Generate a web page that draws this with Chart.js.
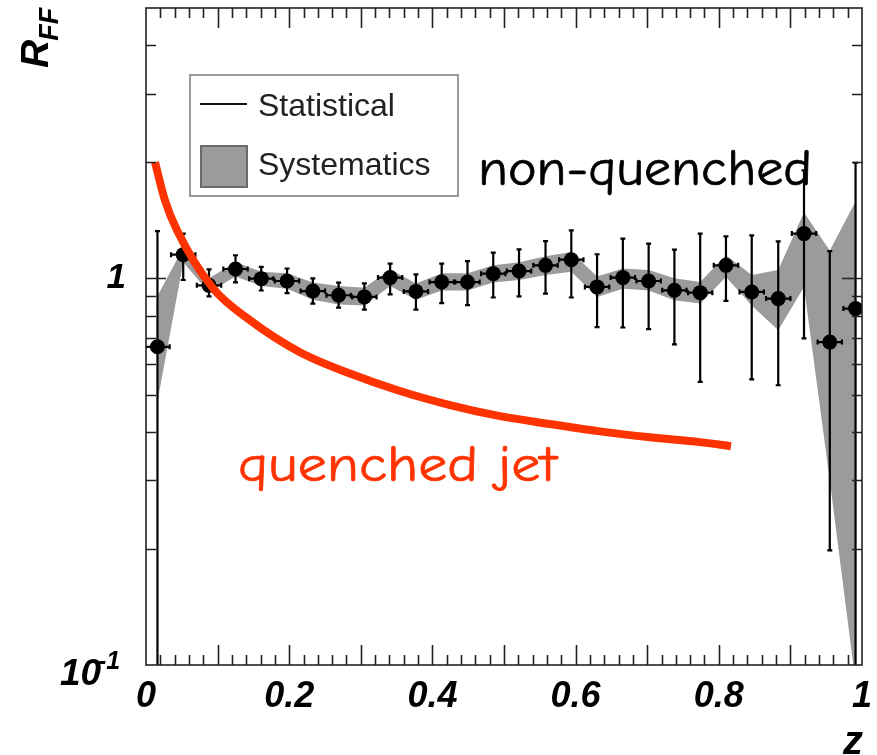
<!DOCTYPE html>
<html>
<head>
<meta charset="utf-8">
<script src="https://cdn.jsdelivr.net/npm/chart.js@4.4.0/dist/chart.umd.min.js"></script>
<style>
  html, body { margin: 0; padding: 0; background: #ffffff; }
  #wrap { width: 877px; height: 755px; }
</style>
</head>
<body>
<div id="wrap"><canvas id="c" width="877" height="755"></canvas></div>
<script>
// Fragmentation-function ratio R_FF versus z
const zValues   = [0.016, 0.052, 0.088, 0.125, 0.161, 0.197, 0.233, 0.269, 0.305, 0.341,
                   0.377, 0.413, 0.449, 0.485, 0.521, 0.558, 0.594, 0.630, 0.666, 0.702,
                   0.738, 0.774, 0.810, 0.846, 0.883, 0.919, 0.955, 0.991];
const rffValues = [0.665, 1.151, 0.959, 1.057, 0.998, 0.984, 0.927, 0.904, 0.895, 1.004,
                   0.925, 0.978, 0.978, 1.028, 1.044, 1.080, 1.117, 0.950, 1.004, 0.984,
                   0.931, 0.918, 1.080, 0.922, 0.886, 1.305, 0.684, 0.835];
// statistical errors (lower / upper ends of the bar)
const statLow   = [0.09, 0.990, 0.898, 0.976, 0.930, 0.915, 0.860, 0.840, 0.830, 0.909,
                   0.830, 0.863, 0.852, 0.892, 0.898, 0.913, 0.892, 0.748, 0.746, 0.739,
                   0.675, 0.540, 0.874, 0.548, 0.529, 0.699, 0.198, 0.09];
const statHigh  = [1.325, 1.305, 1.055, 1.147, 1.070, 1.060, 1.000, 0.975, 0.970, 1.091,
                   1.024, 1.091, 1.108, 1.165, 1.188, 1.248, 1.330, 1.154, 1.266, 1.229,
                   1.186, 1.305, 1.284, 1.291, 1.246, 1.901, 1.176, 1.990];
// systematic uncertainty band
const sysLow    = [0.48, 1.10, 0.92, 1.01, 0.955, 0.94, 0.88, 0.855, 0.85, 0.955,
                   0.88, 0.93, 0.93, 0.975, 0.99, 1.02, 1.04, 0.895, 0.94, 0.93,
                   0.877, 0.86, 1.008, 0.85, 0.734, 0.95, 0.30, 0.09];
const sysHigh   = [0.90, 1.20, 1.00, 1.10, 1.04, 1.03, 0.975, 0.955, 0.945, 1.055,
                   0.97, 1.03, 1.03, 1.08, 1.10, 1.14, 1.17, 1.01, 1.06, 1.05,
                   1.00, 0.978, 1.147, 1.02, 1.05, 1.48, 1.18, 1.58];
const binHalfWidth = 0.017;

// expected suppression for a quenched jet
const quenchedZ = [0.0126, 0.0265, 0.0433, 0.0936, 0.1453, 0.2151, 0.2849, 0.3547,
                   0.4246, 0.4944, 0.5642, 0.6341, 0.7039, 0.7737, 0.8170];
const quenchedR = [1.995, 1.590, 1.331, 0.942, 0.779, 0.644, 0.567, 0.511,
                   0.470, 0.440, 0.420, 0.402, 0.388, 0.377, 0.368];

const xTickLabels = [0, 0.2, 0.4, 0.6, 0.8, 1];
const yTickLabels = [0.1, 1];
const yMinorTicks = [0.2, 0.3, 0.4, 0.5, 0.6, 0.7, 0.8, 0.9, 2, 3, 4];

const FONT = 'Liberation Sans, Arial, Helvetica, sans-serif';
const HAND = '"Comic Sans MS", "Comic Neue", "DejaVu Sans", sans-serif';
const POINTS_INDEX = 3;

const pts = (xs, ys) => xs.map((x, i) => ({ x: x, y: ys[i] }));

const decor = {
  id: 'decor',
  beforeDatasetDraw(chart, args) {
    if (args.index !== POINTS_INDEX) return;
    const { ctx, chartArea: a } = chart;
    const xs = chart.scales.x, ys = chart.scales.y;
    ctx.save();
    ctx.beginPath();
    ctx.rect(a.left, a.top, a.right - a.left, a.bottom - a.top);
    ctx.clip();
    ctx.strokeStyle = '#000';
    ctx.lineWidth = 2.2;
    const cap = 2.5;
    zValues.forEach((z, i) => {
      const px = xs.getPixelForValue(z);
      const py = ys.getPixelForValue(rffValues[i]);
      const lo = ys.getPixelForValue(statLow[i]);
      const hi = ys.getPixelForValue(statHigh[i]);
      const l = xs.getPixelForValue(z - binHalfWidth);
      const r = xs.getPixelForValue(z + binHalfWidth);
      ctx.beginPath();
      ctx.moveTo(px, lo); ctx.lineTo(px, hi);
      ctx.moveTo(px - cap, lo); ctx.lineTo(px + cap, lo);
      ctx.moveTo(px - cap, hi); ctx.lineTo(px + cap, hi);
      ctx.moveTo(l, py); ctx.lineTo(r, py);
      ctx.moveTo(l, py - cap); ctx.lineTo(l, py + cap);
      ctx.moveTo(r, py - cap); ctx.lineTo(r, py + cap);
      ctx.stroke();
    });
    ctx.restore();
  },
  afterDraw(chart) {
    const { ctx, chartArea: a } = chart;
    const xs = chart.scales.x, ys = chart.scales.y;
    ctx.save();

    // frame and inward tick marks
    ctx.strokeStyle = '#222';
    ctx.lineWidth = 1.6;
    ctx.strokeRect(a.left, a.top, a.right - a.left, a.bottom - a.top);
    ctx.beginPath();
    for (let k = 1; k < 50; k++) {
      const px = Math.round(xs.getPixelForValue(k / 50)) + 0.5;
      const len = (k % 5 === 0) ? 20 : 10;
      ctx.moveTo(px, a.bottom); ctx.lineTo(px, a.bottom - len);
      ctx.moveTo(px, a.top); ctx.lineTo(px, a.top + len);
    }
    const yMarks = yMinorTicks.map(v => [v, 10]).concat([[1, 20]]);
    yMarks.forEach(([v, len]) => {
      const py = Math.round(ys.getPixelForValue(v)) + 0.5;
      ctx.moveTo(a.left, py); ctx.lineTo(a.left + len, py);
      ctx.moveTo(a.right, py); ctx.lineTo(a.right - len, py);
    });
    ctx.stroke();

    // lower y label written as a power of ten
    const y01 = ys.getPixelForValue(0.1);
    ctx.fillStyle = '#000';
    ctx.textBaseline = 'alphabetic';
    ctx.textAlign = 'left';
    ctx.font = 'italic bold 37px ' + FONT;
    ctx.fillText('10', 60, y01 + 20);
    ctx.font = 'italic bold 25px ' + FONT;
    ctx.fillText('-1', 98, y01 + 4);

    // x axis title
    ctx.textAlign = 'right';
    ctx.font = 'italic bold 40px ' + FONT;
    ctx.fillText('z', a.right + 1, 754);
    ctx.textAlign = 'left';

    // y axis title R_FF
    ctx.save();
    ctx.translate(48, 68);
    ctx.rotate(-Math.PI / 2);
    ctx.font = 'italic bold 39px ' + FONT;
    ctx.fillText('R', 0, 0);
    const rw = ctx.measureText('R').width;
    ctx.font = 'italic bold 27px ' + FONT;
    ctx.fillText('FF', rw - 1, 10);
    ctx.restore();

    // legend
    ctx.fillStyle = '#ffffff';
    ctx.fillRect(190, 75, 268, 121);
    ctx.strokeStyle = '#9a9a9a';
    ctx.lineWidth = 2;
    ctx.strokeRect(190, 75, 268, 121);
    ctx.strokeStyle = '#111';
    ctx.lineWidth = 2;
    ctx.beginPath();
    ctx.moveTo(200, 104); ctx.lineTo(247, 104);
    ctx.stroke();
    ctx.fillStyle = '#9b9b9b';
    ctx.fillRect(201, 146, 46, 41);
    ctx.strokeStyle = '#6a6a6a';
    ctx.strokeRect(201, 146, 46, 41);
    ctx.fillStyle = '#222';
    ctx.font = '32px ' + FONT;
    ctx.textBaseline = 'middle';
    ctx.fillText('Statistical', 258, 107);
    ctx.fillText('Systematics', 258, 166);

    // annotations
    const fitText = (txt, left, right, baseline, color) => {
      ctx.save();
      ctx.font = '50px ' + HAND;
      ctx.textBaseline = 'alphabetic';
      ctx.textAlign = 'left';
      ctx.fillStyle = color;
      ctx.strokeStyle = color;
      ctx.lineWidth = 0.7;
      const w = ctx.measureText(txt).width;
      ctx.translate(left, baseline);
      ctx.scale((right - left) / w, 1);
      ctx.fillText(txt, 0, 0);
      ctx.strokeText(txt, 0, 0);
      ctx.restore();
    };
    fitText('non-quenched', 478, 812, 185, '#000000');
    fitText('quenched jet', 238, 557, 481, '#ff3300');

    ctx.restore();
  }
};

new Chart(document.getElementById('c'), {
  data: {
    datasets: [
      {
        type: 'line',
        label: 'quenched jet',
        data: pts(quenchedZ, quenchedR),
        borderColor: '#ff3300',
        borderWidth: 8,
        pointRadius: 0,
        cubicInterpolationMode: 'monotone',
        fill: false,
        order: 0
      },
      {
        type: 'line',
        label: 'sys high',
        data: pts(zValues, sysHigh),
        borderWidth: 0,
        borderColor: 'rgba(0,0,0,0)',
        pointRadius: 0,
        tension: 0,
        fill: false,
        order: 3
      },
      {
        type: 'line',
        label: 'Systematics',
        data: pts(zValues, sysLow),
        borderWidth: 0,
        borderColor: 'rgba(0,0,0,0)',
        backgroundColor: '#9b9b9b',
        pointRadius: 0,
        tension: 0,
        fill: '-1',
        order: 2
      },
      {
        type: 'scatter',
        label: 'Statistical',
        data: pts(zValues, rffValues),
        backgroundColor: '#000',
        borderWidth: 0,
        pointRadius: 7.5,
        order: 1
      }
    ]
  },
  options: {
    responsive: false,
    devicePixelRatio: 1,
    animation: false,
    layout: { padding: { top: 8, right: 15, left: 0, bottom: 0 } },
    plugins: {
      legend: { display: false },
      tooltip: { enabled: false },
      filler: { propagate: false }
    },
    scales: {
      x: {
        type: 'linear',
        position: 'bottom',
        min: 0,
        max: 1,
        grid: { display: false, drawTicks: false },
        border: { display: false },
        afterBuildTicks: s => { s.ticks = xTickLabels.map(v => ({ value: v })); },
        afterFit: s => { s.height = 90; s.paddingLeft = 0; s.paddingRight = 0; },
        ticks: {
          autoSkip: false,
          maxRotation: 0,
          padding: 10,
          color: '#000',
          font: { family: FONT, size: 36, weight: 'bold', style: 'italic' },
          callback: v => String(v)
        }
      },
      y: {
        type: 'logarithmic',
        position: 'left',
        min: 0.1,
        max: 5,
        grid: { display: false, drawTicks: false },
        border: { display: false },
        afterBuildTicks: s => { s.ticks = yTickLabels.map(v => ({ value: v })); },
        afterFit: s => { s.width = 146; s.paddingTop = 0; s.paddingBottom = 0; },
        ticks: {
          autoSkip: false,
          padding: 20,
          color: '#000',
          font: { family: FONT, size: 35, weight: 'bold', style: 'italic' },
          callback: v => (v === 1 ? '1' : '')
        }
      }
    }
  },
  plugins: [decor]
});
</script>
</body>
</html>
